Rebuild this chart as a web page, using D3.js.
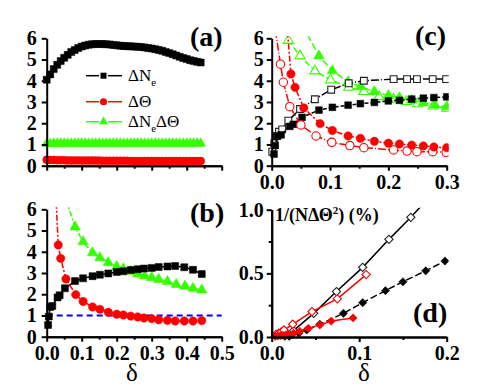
<!DOCTYPE html>
<html>
<head>
<meta charset="utf-8">
<script src="https://cdn.jsdelivr.net/npm/d3@7"></script>
<style>
  body { margin: 0; background: #fff; }
  text { font-family: "Liberation Serif", "Times New Roman", serif; }
</style>
</head>
<body>
<svg id="chart" width="485" height="388"></svg>
<script>
// panel (a): dense scan over delta
const deltaA = [0, 0.01, 0.02, 0.03, 0.04, 0.05, 0.06, 0.07, 0.08, 0.09, 0.1, 0.11, 0.12, 0.13, 0.14,
  0.15, 0.16, 0.17, 0.18, 0.19, 0.2, 0.21, 0.22, 0.23, 0.24, 0.25, 0.26, 0.27, 0.28, 0.29, 0.3,
  0.31, 0.32, 0.33, 0.34, 0.35, 0.36, 0.37, 0.38, 0.39, 0.4, 0.41, 0.42, 0.43, 0.44];
const dNeA = [4.05, 4.3, 4.55, 4.75, 4.93, 5.08, 5.22, 5.35, 5.45, 5.54, 5.61, 5.66, 5.7, 5.72, 5.73,
  5.73, 5.73, 5.72, 5.71, 5.69, 5.67, 5.65, 5.64, 5.63, 5.62, 5.61, 5.6, 5.59, 5.57, 5.54, 5.52,
  5.49, 5.45, 5.41, 5.36, 5.31, 5.25, 5.19, 5.13, 5.07, 5.02, 4.97, 4.93, 4.89, 4.86];
const dThetaA = [0.28, 0.27, 0.27, 0.26, 0.26, 0.26, 0.25, 0.25, 0.25, 0.25, 0.24, 0.24, 0.24, 0.24, 0.24,
  0.24, 0.23, 0.23, 0.23, 0.23, 0.23, 0.23, 0.23, 0.23, 0.22, 0.22, 0.22, 0.22, 0.22, 0.22, 0.22,
  0.22, 0.22, 0.22, 0.22, 0.22, 0.22, 0.22, 0.22, 0.22, 0.22, 0.22, 0.22, 0.22, 0.22];
const dNeThetaA = [1.04, 1.04, 1.05, 1.05, 1.05, 1.05, 1.05, 1.05, 1.05, 1.05, 1.05, 1.05, 1.05, 1.05, 1.05,
  1.05, 1.05, 1.05, 1.05, 1.05, 1.05, 1.05, 1.05, 1.05, 1.05, 1.05, 1.05, 1.05, 1.05, 1.05, 1.05,
  1.05, 1.05, 1.05, 1.05, 1.05, 1.05, 1.05, 1.05, 1.05, 1.05, 1.05, 1.05, 1.05, 1.05];

// panels (b) and (c): filled symbols [delta, value]
const blackFilled = [[0.004, 0.55], [0.006, 0.95], [0.01, 1.4], [0.016, 1.45], [0.031, 1.85], [0.037, 1.95],
  [0.052, 2.28], [0.081, 2.62], [0.104, 2.75], [0.131, 2.85], [0.152, 2.92], [0.176, 2.98], [0.2, 3.05],
  [0.219, 3.08], [0.24, 3.14], [0.26, 3.18], [0.278, 3.21], [0.3, 3.24], [0.32, 3.28], [0.345, 3.31],
  [0.367, 3.33], [0.393, 3.27], [0.418, 3.15], [0.443, 2.95]];
const redFilled = [[0.022, 8], [0.033, 4.32], [0.04, 3.69], [0.055, 2.72], [0.083, 1.98], [0.104, 1.66],
  [0.131, 1.4], [0.152, 1.29], [0.176, 1.15], [0.2, 1.06], [0.219, 1.02], [0.24, 0.97], [0.26, 0.93],
  [0.278, 0.88], [0.3, 0.85], [0.32, 0.8], [0.345, 0.77], [0.367, 0.74], [0.393, 0.74], [0.418, 0.74],
  [0.443, 0.76]];
const greenFilled = [[0.045, 7], [0.081, 5.17], [0.104, 4.47], [0.131, 3.95], [0.152, 3.72], [0.176, 3.49],
  [0.2, 3.3], [0.219, 3.2], [0.24, 3.08], [0.26, 2.96], [0.28, 2.86], [0.3, 2.78], [0.32, 2.7],
  [0.345, 2.6], [0.37, 2.46], [0.395, 2.38], [0.418, 2.28], [0.443, 2.2]];

// panel (c): open symbols
const blackOpen = [[0.001, 0.66], [0.0045, 1.05], [0.009, 1.4], [0.0125, 1.6], [0.018, 1.71], [0.0285, 2.12],
  [0.0486, 2.67], [0.074, 3.13], [0.102, 3.58], [0.132, 3.88], [0.158, 4.0], [0.209, 4.08], [0.232, 4.08],
  [0.249, 4.08], [0.276, 4.08], [0.299, 4.08]];
const redOpen = [[0.003, 7], [0.015, 4.78], [0.02, 3.93], [0.031, 2.78], [0.05, 1.92], [0.076, 1.4],
  [0.103, 1.1], [0.134, 0.95], [0.158, 0.85], [0.209, 0.74], [0.232, 0.69], [0.249, 0.66], [0.276, 0.66],
  [0.299, 0.63]];
const greenOpen = [[0.015, 8], [0.0286, 5.9], [0.0486, 5.17], [0.074, 4.46], [0.101, 4.04], [0.132, 3.69],
  [0.158, 3.49], [0.184, 3.25], [0.209, 3.13], [0.231, 3.02], [0.25, 2.91], [0.277, 2.81], [0.3, 2.7]];

// panel (d): 1/(N dTheta^2)
const blackOpenD = [[0.015, 0.01], [0.025, 0.05], [0.048, 0.186], [0.074, 0.357], [0.104, 0.547],
  [0.134, 0.767], [0.159, 0.94], [0.175, 1.06]];
const blackFilledD = [[0.02, 0.005], [0.031, 0.03], [0.04, 0.055], [0.055, 0.1], [0.082, 0.186],
  [0.104, 0.27], [0.13, 0.364], [0.15, 0.434], [0.176, 0.52], [0.198, 0.597]];
const redOpenD = [[0.005, 0.02], [0.008, 0.03], [0.011, 0.04], [0.014, 0.055], [0.024, 0.1], [0.046, 0.2],
  [0.075, 0.3], [0.108, 0.49]];
const redFilledD = [[0.004, 0.005], [0.007, 0.008], [0.01, 0.01], [0.013, 0.013], [0.016, 0.016],
  [0.019, 0.02], [0.025, 0.03], [0.032, 0.045], [0.042, 0.068], [0.055, 0.095], [0.068, 0.125], [0.093, 0.15]];

const RED = "#ff0000", GREEN = "#33ff00", BLACK = "#000";

const svg = d3.select("#chart");

let clipId = 0;
function panel(o) {
  const x = d3.scaleLinear().domain(o.xd).range(o.xr);
  const y = d3.scaleLinear().domain(o.yd).range(o.yr);
  const id = "clip" + (clipId++);
  svg.append("clipPath").attr("id", id).append("rect")
    .attr("x", o.xr[0] - 8).attr("y", o.yr[1] - 2)
    .attr("width", o.xr[1] - o.xr[0] + 10).attr("height", o.yr[0] - o.yr[1] + 10);
  const plot = svg.append("g").attr("clip-path", `url(#${id})`);
  return { x, y, plot, o };
}

function axes(p) {
  const o = p.o;
  const ax = svg.append("g");
  // minor ticks
  ax.append("g").attr("transform", `translate(0,${o.yr[0]})`)
    .call(d3.axisBottom(p.x).tickValues(o.xminor).tickSize(3).tickSizeOuter(0).tickFormat(""));
  if (o.yminor) {
    ax.append("g").attr("transform", `translate(${o.xr[0]},0)`)
      .call(d3.axisLeft(p.y).tickValues(o.yminor).tickSize(3).tickSizeOuter(0).tickFormat(""));
  }
  ax.append("g").attr("transform", `translate(0,${o.yr[0]})`)
    .call(d3.axisBottom(p.x).tickValues(o.xmajor).tickSize(5).tickSizeOuter(0).tickPadding(4)
      .tickFormat(o.xlabels ? d3.format(".1f") : ""));
  ax.append("g").attr("transform", `translate(${o.xr[0]},0)`)
    .call(d3.axisLeft(p.y).tickValues(o.ymajor).tickSize(5).tickSizeOuter(0).tickPadding(o.ypad)
      .tickFormat(d3.format(o.yfmt)));
  ax.selectAll(".domain").attr("stroke-width", 2);
  ax.selectAll(".tick line").attr("stroke-width", 2);
  ax.selectAll(".tick text")
    .attr("font-family", "Liberation Serif")
    .attr("font-size", 20).attr("font-weight", "bold").attr("fill", "#000");
}

function series(p, data, s) {
  if (s.line !== false) {
    p.plot.append("path").datum(data)
      .attr("d", d3.line().x(d => p.x(d[0])).y(d => p.y(d[1])))
      .attr("fill", "none").attr("stroke", s.color).attr("stroke-width", 1.5)
      .attr("stroke-dasharray", s.dash || null);
  }
  p.plot.selectAll(null).data(data).join("path")
    .attr("transform", d => `translate(${p.x(d[0])},${p.y(d[1])})` + (s.rot ? " rotate(45)" : ""))
    .attr("d", d3.symbol(s.sym, s.size)())
    .attr("fill", s.filled ? s.color : "#fff")
    .attr("stroke", s.filled ? s.color : (s.color === BLACK ? "#222" : s.color))
    .attr("stroke-width", s.filled ? 0.5 : 1.1);
}

function label(txt, x, y) {
  svg.append("text").attr("x", x).attr("y", y).text(txt)
    .attr("font-size", 28).attr("font-weight", "bold");
}

// ---------- (a)
const pa = panel({ xd: [0, 0.5], xr: [46.7, 221.7], yd: [0, 6], yr: [165.7, 38.3] });
const rowsA = d3.zip(deltaA, dNeA, dThetaA, dNeThetaA);
series(pa, rowsA.map(r => [r[0], r[2]]), { color: RED, filled: true, sym: d3.symbolCircle, size: 50, line: false });
series(pa, rowsA.map(r => [r[0], r[3]]), { color: GREEN, filled: true, sym: d3.symbolTriangle, size: 42, line: false });
series(pa, rowsA.map(r => [r[0], r[1]]), { color: BLACK, filled: true, sym: d3.symbolSquare, size: 49, line: false });
axes(Object.assign(pa, { o: Object.assign(pa.o, {
  xmajor: [0, 0.1, 0.2, 0.3, 0.4, 0.5], xminor: [0.05, 0.15, 0.25, 0.35, 0.45], xlabels: false,
  ymajor: [0, 1, 2, 3, 4, 5, 6], yfmt: "d", ypad: 5 }) }));

// legend (a)
const legendItems = [
  { y: 75.7, color: BLACK, sym: d3.symbolSquare, size: 36, parts: [["ΔN", 0], ["e", 1]] },
  { y: 101.7, color: RED, sym: d3.symbolCircle, size: 40, parts: [["ΔΘ", 0]] },
  { y: 121.7, color: GREEN, sym: d3.symbolTriangle, size: 36, parts: [["ΔN", 0], ["e", 1], ["ΔΘ", 0]] }
];
const leg = svg.append("g");
legendItems.forEach(it => {
  leg.append("line").attr("x1", 86).attr("x2", 99).attr("y1", it.y).attr("y2", it.y)
    .attr("stroke", it.color).attr("stroke-width", 1.5);
  leg.append("line").attr("x1", 108).attr("x2", 122).attr("y1", it.y).attr("y2", it.y)
    .attr("stroke", it.color).attr("stroke-width", 1.5);
  leg.append("path").attr("transform", `translate(103.5,${it.y})`)
    .attr("d", d3.symbol(it.sym, it.size)()).attr("fill", it.color);
  const t = leg.append("text").attr("x", 128).attr("y", it.y + 5.5).attr("font-size", 17);
  it.parts.forEach(([s, sub]) => {
    t.append("tspan").text(s).attr("font-size", sub ? 11 : 17).attr("dy", sub ? 5 : (t.selectAll("tspan").size() > 1 ? -5 : 0));
  });
});
label("(a)", 190, 46);

// ---------- (b)
const pb = panel({ xd: [0, 0.5], xr: [46.7, 221.7], yd: [0, 6], yr: [336.7, 209.3] });
pb.plot.append("line").attr("x1", pb.x(0)).attr("x2", pb.x(0.5)).attr("y1", pb.y(1)).attr("y2", pb.y(1))
  .attr("stroke", "#0000ff").attr("stroke-width", 2).attr("stroke-dasharray", "6,4");
series(pb, greenFilled, { color: GREEN, filled: true, sym: d3.symbolTriangle, size: 48, dash: "6,2,2,2" });
series(pb, blackFilled, { color: BLACK, filled: true, sym: d3.symbolSquare, size: 49 });
series(pb, redFilled, { color: RED, filled: true, sym: d3.symbolCircle, size: 55, dash: "6,2,2,2" });
axes(Object.assign(pb, { o: Object.assign(pb.o, {
  xmajor: [0, 0.1, 0.2, 0.3, 0.4, 0.5], xminor: [0.05, 0.15, 0.25, 0.35, 0.45], xlabels: true,
  ymajor: [0, 1, 2, 3, 4, 5, 6], yfmt: "d", ypad: 5 }) }));
label("(b)", 190, 222);
svg.append("text").attr("x", 132).attr("y", 381).attr("text-anchor", "middle")
  .attr("font-size", 25).text("δ");

// ---------- (c)
const pc = panel({ xd: [0, 0.3], xr: [271.7, 446.7], yd: [0, 6], yr: [165.7, 38.3] });
series(pc, greenOpen, { color: GREEN, filled: false, sym: d3.symbolTriangle, size: 44, dash: "6,3" });
series(pc, greenFilled, { color: GREEN, filled: true, sym: d3.symbolTriangle, size: 48, dash: "7,3" });
series(pc, blackOpen, { color: BLACK, filled: false, sym: d3.symbolSquare, size: 46, dash: "8,2,1,2" });
series(pc, blackFilled, { color: BLACK, filled: true, sym: d3.symbolSquare, size: 46, dash: "4,2" });
series(pc, redOpen, { color: RED, filled: false, sym: d3.symbolCircle, size: 55, dash: "8,2,1,2" });
series(pc, redFilled, { color: RED, filled: true, sym: d3.symbolCircle, size: 55, dash: "6,2,2,2" });
axes(Object.assign(pc, { o: Object.assign(pc.o, {
  xmajor: [0, 0.1, 0.2, 0.3], xminor: [0.05, 0.15, 0.25], xlabels: true,
  ymajor: [0, 1, 2, 3, 4, 5, 6], yfmt: "d", ypad: 3 }) }));
label("(c)", 415, 45);

// ---------- (d)
const pd = panel({ xd: [0, 0.2], xr: [271.7, 446.7], yd: [0, 1], yr: [337, 209.7] });
series(pd, blackOpenD, { color: BLACK, filled: false, sym: d3.symbolSquare, size: 34, rot: true });
series(pd, blackFilledD, { color: BLACK, filled: true, sym: d3.symbolSquare, size: 34, rot: true, dash: "7,3" });
series(pd, redOpenD, { color: RED, filled: false, sym: d3.symbolSquare, size: 34, rot: true });
series(pd, redFilledD, { color: RED, filled: true, sym: d3.symbolSquare, size: 34, rot: true });
axes(Object.assign(pd, { o: Object.assign(pd.o, {
  xmajor: [0, 0.1, 0.2], xminor: [0.05, 0.15], xlabels: true,
  ymajor: [0, 0.5, 1], yminor: [0.25, 0.75], yfmt: ".1f", ypad: 3 }) }));
label("(d)", 413, 322);
const dt = svg.append("text").attr("x", 275).attr("y", 221).attr("font-size", 18).attr("font-weight", "bold");
dt.append("tspan").text("1/(NΔΘ");
dt.append("tspan").text("2").attr("font-size", 11).attr("dy", -7);
dt.append("tspan").text(") (%)").attr("dy", 7);
svg.append("text").attr("x", 364).attr("y", 381).attr("text-anchor", "middle")
  .attr("font-size", 25).text("δ");
</script>
</body>
</html>
